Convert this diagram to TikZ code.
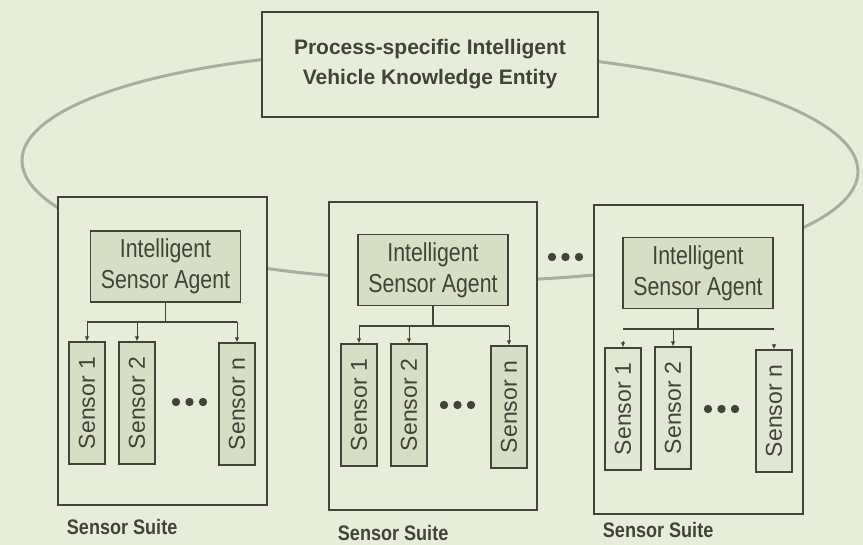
\documentclass[tikz,border=0pt]{standalone}
\usepackage{fontspec}
\setmainfont{Liberation Sans}
\newfontfamily\narrowfont[FakeStretch=0.82]{Liberation Sans}
\newfontfamily\suitefont[FakeStretch=0.86]{Liberation Sans}
\usepackage{tikz}
\usetikzlibrary{arrows.meta}
\definecolor{paper}{HTML}{E8EDDA}
\definecolor{boxfill}{HTML}{D6DEC5}
\definecolor{ink}{HTML}{3D4639}
\definecolor{ringgray}{HTML}{A9ADA2}

\begin{document}
\begin{tikzpicture}[x=1pt, y=-1pt,
  line width=1.2pt, draw=ink, text=ink,
  suite/.style={draw, fill=paper, inner sep=0pt},
  agent/.style={draw, fill=boxfill, inner sep=0pt, align=center,
    minimum width=150, minimum height=71,
    font=\narrowfont\fontsize{26}{31}\selectfont},
  sensor/.style={draw, fill=boxfill, inner sep=0pt,
    minimum width=36, minimum height=122,
    font=\fontsize{23}{26}\selectfont},
  feed/.style={-{Latex[length=5pt,width=4.5pt]}, line width=1pt},
  suitelabel/.style={anchor=west, font=\suitefont\bfseries\fontsize{21}{24}\selectfont}]
\fill [paper] (0,0) rectangle (863,545);
\useasboundingbox (0,0) rectangle (863,545);
% ring linking the suites to the entity
\draw [ringgray, line width=3pt, rotate around={-0.8:(440,164)}] (440,166) ellipse [x radius=418, y radius=115];
\node [draw, fill=paper, inner sep=0pt, align=center, minimum width=336,
  minimum height=105, font=\bfseries\fontsize{21}{30}\selectfont] (entity)
  at (430,64.5) {Process-specific Intelligent\\Vehicle Knowledge Entity};

% sensor suites
\node [suite, minimum width=209, minimum height=308] (suiteA) at (162.5,351) {};
\node [suite, minimum width=208, minimum height=308] (suiteB) at (433,356) {};
\node [suite, minimum width=209, minimum height=309] (suiteC) at (698.5,359.5) {};

\node [agent] (agentA) at (165.5,266.5) {Intelligent\\Sensor Agent};
\node [agent] (agentB) at (433,270) {Intelligent\\Sensor Agent};
\node [agent] (agentC) at (698,273) {Intelligent\\Sensor Agent};

\node [sensor] (sA1) at (87,403) {\rotatebox{90}{Sensor 1}};
\node [sensor] (sA2) at (137,403) {\rotatebox{90}{Sensor 2}};
\node [sensor] (sAn) at (237,404) {\rotatebox{90}{Sensor n}};
\node [sensor] (sB1) at (359,405) {\rotatebox{90}{Sensor 1}};
\node [sensor] (sB2) at (409,405) {\rotatebox{90}{Sensor 2}};
\node [sensor] (sBn) at (509,407) {\rotatebox{90}{Sensor n}};
\node [sensor, fill=paper!60!boxfill] (sC1) at (623,409) {\rotatebox{90}{Sensor 1}};
\node [sensor, fill=paper!60!boxfill] (sC2) at (673,408) {\rotatebox{90}{Sensor 2}};
\node [sensor, fill=paper!60!boxfill] (sCn) at (774,411) {\rotatebox{90}{Sensor n}};

% agent to sensors
\draw (agentA.south) -- (agentA.south |- 0,322);
\draw (sA1.north |- 0,322) -- (sAn.north |- 0,322);
\draw [feed] (sA1.north |- 0,322) -- (sA1.north);
\draw [feed] (sA2.north |- 0,322) -- (sA2.north);
\draw [feed] (sAn.north |- 0,322) -- (sAn.north);

\draw (agentB.south) -- (agentB.south |- 0,326);
\draw (sB1.north |- 0,326) -- (sBn.north |- 0,326);
\draw [feed] (sB1.north |- 0,326) -- (sB1.north);
\draw [feed] (sB2.north |- 0,326) -- (sB2.north);
\draw [feed] (sBn.north |- 0,326) -- (sBn.north);

\draw (agentC.south) -- (agentC.south |- 0,329);
\draw (sC1.north |- 0,329) -- (sCn.north |- 0,329);
\draw [feed] (sC2.north |- 0,329) -- (sC2.north);
\draw [feed] (sC1.north |- 0,341) -- (sC1.north);
\draw [feed] (sCn.north |- 0,344) -- (sCn.north);

% dots
\foreach \x/\y in {176/402, 444/405, 708/409, 552/257}
  \foreach \k in {0,1,2}
    \fill [ink] (\x+13.5*\k,\y) circle [radius=4.2];

\node [suitelabel] (labA) at (63,527) {Sensor Suite};
\node [suitelabel] (labB) at (334,533) {Sensor Suite};
\node [suitelabel] (labC) at (599,530) {Sensor Suite};
\end{tikzpicture}
\end{document}
